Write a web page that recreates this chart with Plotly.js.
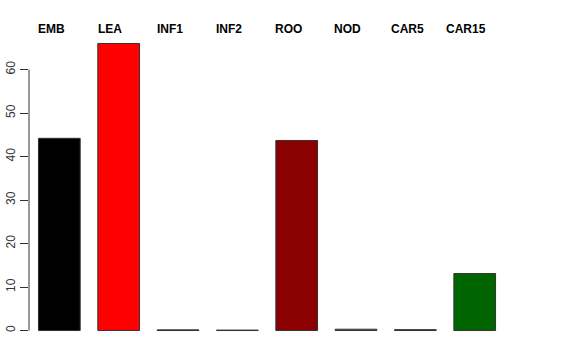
<!DOCTYPE html>
<html>
<head>
<meta charset="utf-8">
<script src="https://cdn.plot.ly/plotly-3.0.1.min.js"></script>
<style>body{margin:0;padding:0;background:#fff;} #chart{width:576px;height:360px;}</style>
</head>
<body>
<div id="chart"></div>
<script>
const categories = ["EMB", "LEA", "INF1", "INF2", "ROO", "NOD", "CAR5", "CAR15"];
const values = [44.2, 66.0, 0.15, 0.1, 43.7, 0.3, 0.2, 13.1];
const barColors = ["#000000", "#ff0000", "#4a5a4a", "#a8a8c0", "#8b0000", "#806880", "#202020", "#006400"];
const yTicks = [0, 10, 20, 30, 40, 50, 60];

const xs = categories.map((c, i) => i);

const trace = {
  type: "bar",
  x: xs,
  y: values,
  width: 0.703,
  marker: { color: barColors, line: { color: "#333333", width: 1 } },
  hoverinfo: "none"
};

const mt = 31.7, mb = 18;
const plotH = 360 - mt - mb;

const annotations = categories.map((c, i) => ({
  x: i - 0.14, xref: "x",
  y: (360 - mb - 28.3) / plotH, yref: "paper",
  text: "<b>" + c + "</b>",
  showarrow: false,
  xanchor: "center", yanchor: "middle",
  font: { family: "Liberation Sans, Arial, sans-serif", size: 12, color: "#000" }
}));

const layout = {
  width: 576, height: 360,
  margin: { l: 29, r: 55, t: mt, b: mb, pad: 0 },
  paper_bgcolor: "#fff", plot_bgcolor: "#fff",
  showlegend: false,
  xaxis: {
    range: [-0.511, 7.78],
    showgrid: false, zeroline: false, showline: false,
    showticklabels: false, ticks: ""
  },
  yaxis: {
    range: [-2.64, 68.64],
    tickvals: yTicks,
    ticktext: yTicks.map(String),
    ticks: "outside", ticklen: 8, tickwidth: 1, tickcolor: "#333",
    tickangle: -90,
    showgrid: false, zeroline: false, showline: false,
    tickfont: { family: "Liberation Sans, Arial, sans-serif", size: 12, color: "#333" }
  },
  shapes: [{
    type: "line", xref: "paper", yref: "y",
    x0: 0, x1: 0, y0: 0, y1: 60,
    line: { color: "#333", width: 1 }
  }],
  annotations: annotations
};

Plotly.newPlot("chart", [trace], layout, { staticPlot: true, displayModeBar: false });
</script>
</body>
</html>
